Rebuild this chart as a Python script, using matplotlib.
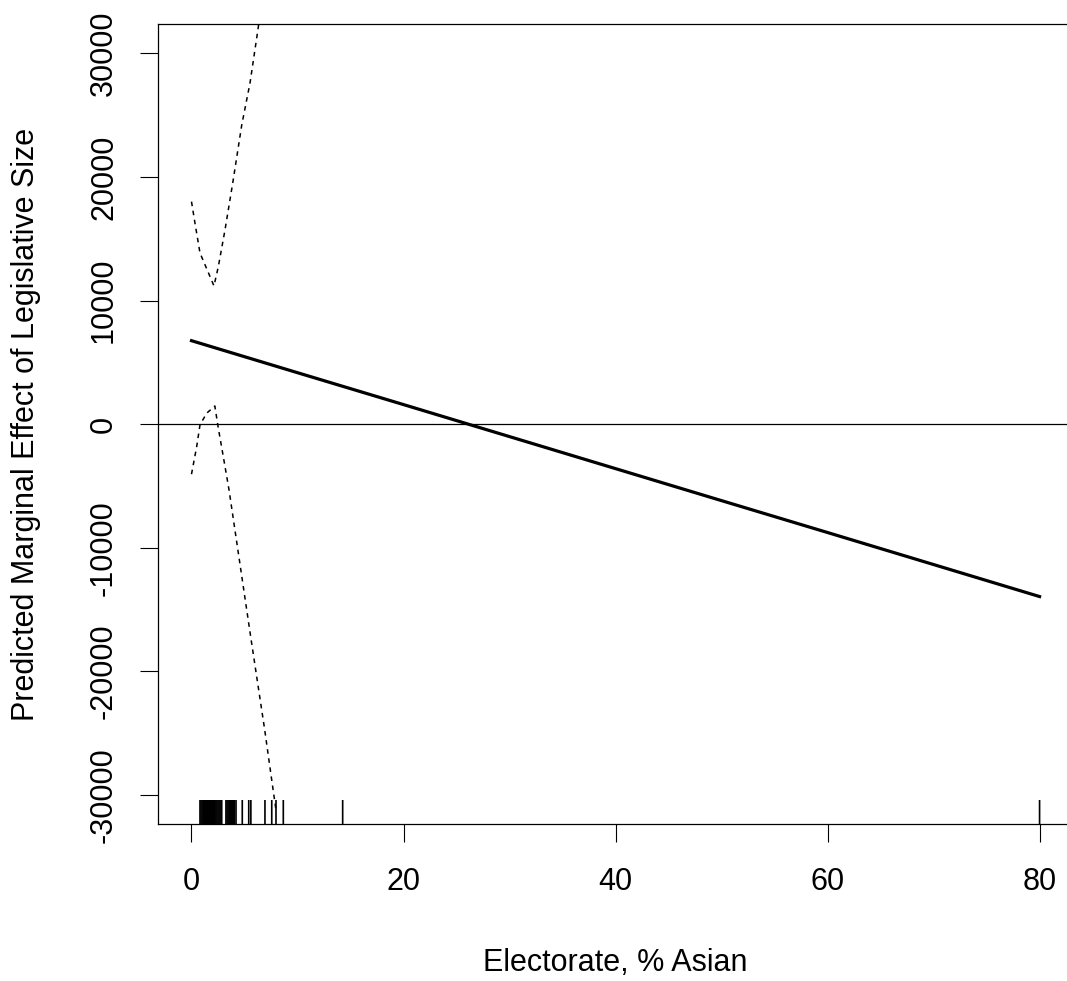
import matplotlib
matplotlib.use("Agg")
import matplotlib.pyplot as plt
import matplotlib.transforms as mtransforms

# marginal effect estimate
effect_x = [0, 10, 20, 30, 40, 50, 60, 70, 80]
effect_y = [6750, 4160, 1580, -1010, -3600, -6190, -8770, -11360, -13950]

# confidence bounds
upper_x = [0, 0.33, 0.8, 1.75, 2.12, 2.53, 3.16, 3.89, 4.74, 5.52, 6.35, 7.0]
upper_y = [18000, 16250, 13850, 11930, 11180, 12740, 15710, 19510, 24200, 27600, 32400, 36000]
lower_x = [0, 0.49, 0.8, 1.43, 2.2, 2.53, 3.0, 3.54, 4.5, 5.6, 6.9, 7.7, 8.0]
lower_y = [-4050, -1820, -60, 880, 1470, -330, -2630, -5320, -10900, -17300, -24700, -29600, -31400]

# observed values of % Asian (rug)
rug_x = [0.8, 0.9, 1.0, 1.1, 1.2, 1.3, 1.4, 1.5, 1.6, 1.7, 1.8, 1.9, 2.0, 2.1, 2.2,
         2.3, 2.4, 2.5, 2.6, 2.7, 2.85, 3.25, 3.35, 3.45, 3.55, 3.65, 3.75, 3.85,
         3.95, 4.05, 4.2, 4.79, 5.4, 5.6, 6.93, 7.57, 7.97, 8.66, 14.26, 80]

x_ticks = [0, 20, 40, 60, 80]
y_ticks = [-30000, -20000, -10000, 0, 10000, 20000, 30000]

plt.rcParams['font.family'] = ['Liberation Sans', 'DejaVu Sans']
plt.rcParams['axes.unicode_minus'] = False

fig = plt.figure(figsize=(10.67, 9.81), dpi=100)
ax = fig.add_axes([158 / 1067, 1 - 824 / 981, 915.5 / 1067, 800 / 981])

ax.plot(effect_x, effect_y, color='black', lw=2.3, solid_joinstyle='round')
ax.plot(upper_x, upper_y, color='black', lw=1.1, dashes=(3, 3))
ax.plot(lower_x, lower_y, color='black', lw=1.1, dashes=(3, 3))
ax.axhline(0, color='black', lw=0.9)

trans = mtransforms.blended_transform_factory(ax.transData, ax.transAxes)
ax.vlines(rug_x, 0, 0.03, transform=trans, color='black', lw=1.2, snap=False)

ax.set_xlim(-3.16, 83.2)
ax.set_ylim(-32350, 32370)

ax.set_xticks(x_ticks)
ax.set_yticks(y_ticks)
ax.tick_params(axis='both', length=13, width=0.8, labelsize=22, color='black')
ax.tick_params(axis='x', pad=18)
ax.tick_params(axis='y', pad=15)
plt.setp(ax.get_yticklabels(), rotation=90, va='center', ha='right')

for s in ax.spines.values():
    s.set_linewidth(0.9)

ax.set_xlabel('Electorate, % Asian', fontsize=22, va='center')
ax.xaxis.set_label_coords(0.5, (824 - 963) / 800)
ax.set_ylabel('Predicted Marginal Effect of Legislative Size', fontsize=22, va='center')
ax.yaxis.set_label_coords((26 - 158) / 915.5, 0.5)

fig.savefig('out.png', dpi=100)
plt.close(fig)
